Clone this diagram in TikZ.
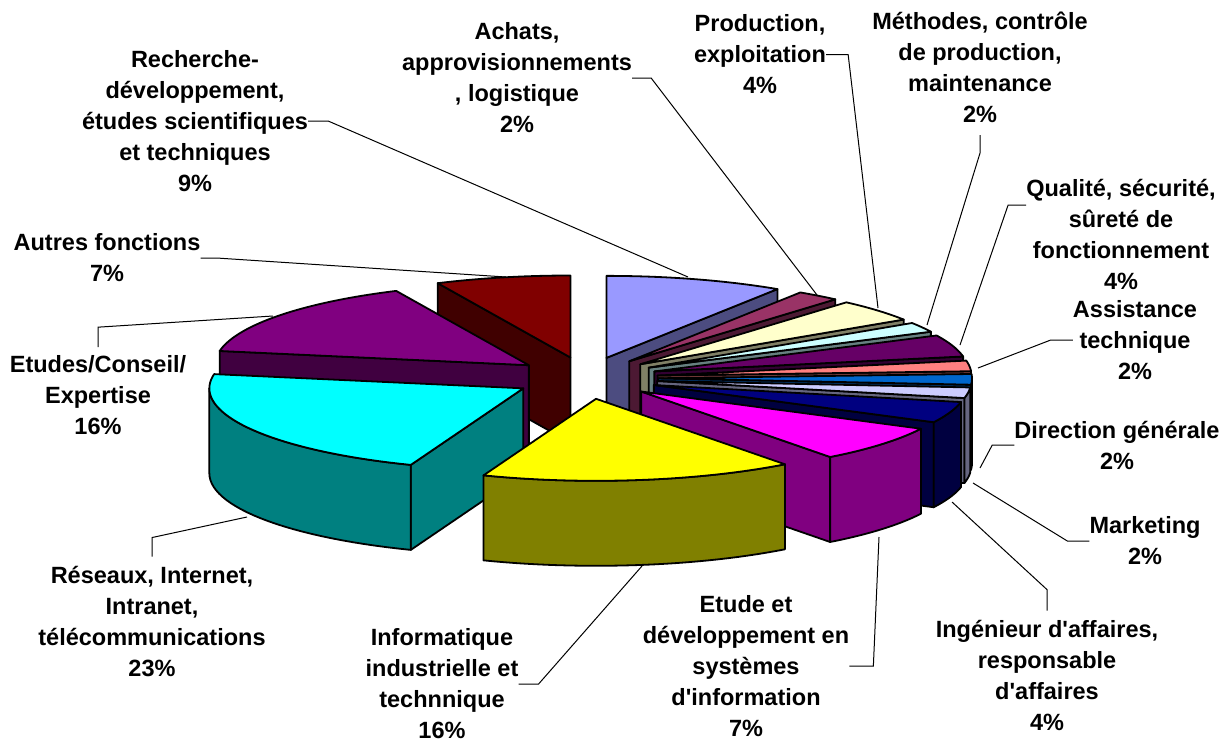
\documentclass[tikz,border=0pt]{standalone}
\usepackage{fontspec}
\newfontfamily\lblfont{Liberation Sans}

\definecolor{recherche}{HTML}{9999FF}
\definecolor{achats}{HTML}{993366}
\definecolor{production}{HTML}{FFFFCC}
\definecolor{methodes}{HTML}{CCFFFF}
\definecolor{qualite}{HTML}{660066}
\definecolor{assistance}{HTML}{FF8080}
\definecolor{direction}{HTML}{0066CC}
\definecolor{marketing}{HTML}{CCCCFF}
\definecolor{ingenieur}{HTML}{000080}
\definecolor{etudesi}{HTML}{FF00FF}
\definecolor{informatique}{HTML}{FFFF00}
\definecolor{reseaux}{HTML}{00FFFF}
\definecolor{conseil}{HTML}{800080}
\definecolor{autres}{HTML}{800000}

% one exploded slice: start angle, end angle (clockwise from the back), colour
\newcommand{\pieslice}[3]{%
  \pgfmathsetmacro\pmid{(#1+#2)/2}
  \pgfmathsetmacro\vx{586+72*sin(\pmid)}
  \pgfmathsetmacro\vy{378-21*cos(\pmid)}
  \pgfmathtruncatemacro\showa{sin(#1)<-0.01}
  \pgfmathtruncatemacro\showb{sin(#2)>0.01}
  \pgfmathsetmacro\wa{max(#1,90)}
  \pgfmathsetmacro\wb{min(#2,270)}
  \pgfmathtruncatemacro\showw{\wb>\wa+0.01}
  \ifnum\showa=1
    \filldraw[slice,fill=#3!50!black] (\vx,\vy) -- ({\vx+314*sin(#1)},{\vy-82*cos(#1)})
      -- ++(0,85) -- (\vx,{\vy+85}) -- cycle;
  \fi
  \ifnum\showb=1
    \filldraw[slice,fill=#3!50!black] (\vx,\vy) -- ({\vx+314*sin(#2)},{\vy-82*cos(#2)})
      -- ++(0,85) -- (\vx,{\vy+85}) -- cycle;
  \fi
  \ifnum\showw=1
    \filldraw[slice,fill=#3!50!black]
      plot[domain=\wa:\wb,samples=30] ({\vx+314*sin(\x)},{\vy-82*cos(\x)})
      -- plot[domain=0:1,samples=30] ({\vx+314*sin(\wb-\x*(\wb-\wa))},{\vy+85-82*cos(\wb-\x*(\wb-\wa))})
      -- cycle;
  \fi
  \filldraw[slice,fill=#3] (\vx,\vy)
    -- plot[domain=#1:#2,samples=40] ({\vx+314*sin(\x)},{\vy-82*cos(\x)}) -- cycle;
}

\begin{document}
\begin{tikzpicture}[x=1pt,y=-1pt,
    slice/.style={draw=black,line width=1.8pt,line join=round}]
  \useasboundingbox (0,0) rectangle (1225,744);

  % slices, from the back to the front
  \pieslice{335}{360}{autres}
  \pieslice{0}{33}{recherche}
  \pieslice{33}{41}{achats}
  \pieslice{41}{57}{production}
  \pieslice{280}{335}{conseil}
  \pieslice{57}{64}{methodes}
  \pieslice{64}{79.5}{qualite}
  \pieslice{79.5}{87}{assistance}
  \pieslice{87}{94.5}{direction}
  \pieslice{94.5}{102}{marketing}
  \pieslice{102}{117}{ingenieur}
  \pieslice{201}{280}{reseaux}
  \pieslice{117}{143}{etudesi}
  \pieslice{143}{201}{informatique}

  \coordinate (p-rech) at (688,277);
  \coordinate (p-achats) at (817,295);
  \coordinate (p-prod) at (878,308);
  \coordinate (p-meth) at (927,325);
  \coordinate (p-qual) at (960,345);
  \coordinate (p-assist) at (978,368);
  \coordinate (p-dir) at (980,468);
  \coordinate (p-mark) at (973,483);
  \coordinate (p-ing) at (952,502);
  \coordinate (p-etudesi) at (879,537);
  \coordinate (p-info) at (642,566);
  \coordinate (p-res) at (247,517);
  \coordinate (p-cons) at (273,316);
  \coordinate (p-autres) at (506,277);

  \begin{scope}[every node/.style={align=center,inner sep=0pt,
      font=\lblfont\bfseries\fontsize{23.5}{31}\selectfont}]
    \node (recherche) at (195,121) {Recherche-\\développement,\\études scientifiques\\et techniques\\9\%};
    \node (achats) at (517,78) {Achats,\\approvisionnements\\, logistique\\2\%};
    \node (production) at (760,54.5) {Production,\\exploitation\\4\%};
    \node (methodes) at (980,67.5) {Méthodes, contrôle\\de production,\\maintenance\\2\%};
    \node (qualite) at (1121,234) {Qualité, sécurité,\\sûreté de\\fonctionnement\\4\%};
    \node (assistance) at (1135,340) {Assistance\\technique\\2\%};
    \node (direction) at (1117,445) {Direction générale\\2\%};
    \node (marketing) at (1145,541) {Marketing\\2\%};
    \node (ingenieur) at (1047,675) {Ingénieur d'affaires,\\responsable\\d'affaires\\4\%};
    \node (etudesi) at (746,666) {Etude et\\développement en\\systèmes\\d'information\\7\%};
    \node (informatique) at (442,684) {Informatique\\industrielle et\\technnique\\16\%};
    \node (reseaux) at (152,622) {Réseaux, Internet,\\Intranet,\\télécommunications\\23\%};
    \node (conseil) at (98,395) {Etudes/Conseil/\\Expertise\\16\%};
    \node (autres) at (107,258) {Autres fonctions\\7\%};
  \end{scope}

  \begin{scope}[every path/.style={draw=black,line width=1pt}]
    \path (recherche.east) -- ++(20,0) -- (p-rech);
    \path (achats.east) -- ++(19,0) -- (p-achats);
    \path (production.east) -- ++(22,0) -- (p-prod);
    \path ([yshift=-12pt]methodes.south) -- ++(0,18) -- (p-meth);
    \path ([yshift=29pt]qualite.west) -- ++(-18,0) -- (p-qual);
    \path (assistance.west) -- ++(-22,0) -- (p-assist);
    \path (direction.west) -- ++(-22,0) -- (p-dir);
    \path (marketing.west) -- ++(-22,0) -- (p-mark);
    \path ([yshift=9pt]ingenieur.north) -- ++(0,-21) -- (p-ing);
    \path (etudesi.east) -- ++(24,0) -- (p-etudesi);
    \path (informatique.east) -- ++(20,0) -- (p-info);
    \path ([yshift=10pt]reseaux.north) -- ++(0,-19) -- (p-res);
    \path ([yshift=8pt]conseil.north) -- ++(0,-20) -- (p-cons);
    \path (autres.east) -- ++(16,0) -- (p-autres);
  \end{scope}
\end{tikzpicture}
\end{document}
